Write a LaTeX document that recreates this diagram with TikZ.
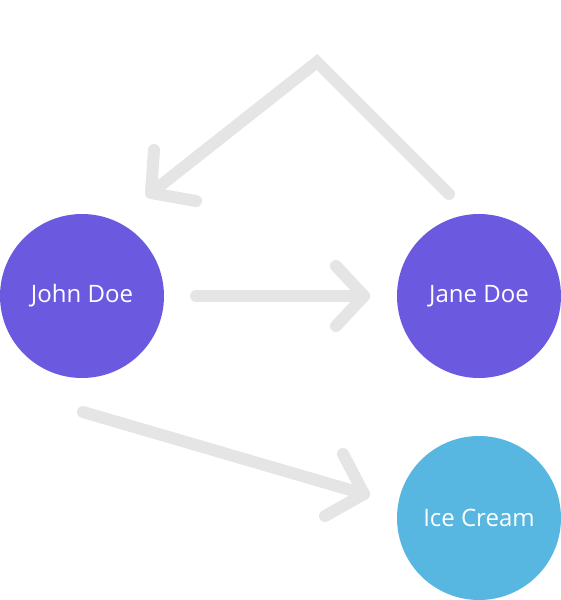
\documentclass[tikz,border=0pt]{standalone}
\usepackage{fontspec}
\setmainfont{Open Sans}
\definecolor{purp}{HTML}{6B5AE0}
\definecolor{skyb}{HTML}{58B7E0}
\definecolor{arrg}{HTML}{E5E5E5}
\begin{document}
\begin{tikzpicture}[x=1pt,y=-1pt,
  person/.style={circle,fill=purp,minimum size=164pt,inner sep=0pt,text=white,font=\fontsize{24}{28}\selectfont},
  thing/.style={circle,fill=skyb,minimum size=164pt,inner sep=0pt,text=white,font=\fontsize{24}{28}\selectfont},
  conn/.style={draw=arrg,line width=12pt,line cap=round,line join=miter}]
\useasboundingbox (0,0) rectangle (561,600);
\node[person] (john) at (82,296) {John Doe};
\node[person] (jane) at (479,296) {Jane Doe};
\node[thing] (ice) at (479,518) {Ice Cream};
% horizontal
\coordinate (h1) at (196,296);
\coordinate (h2) at (364,296);
\coordinate (ha) at (336,266);
\coordinate (hb) at (336,326);
\draw[conn] (h1) -- (h2);
\draw[conn,line join=round] (ha) -- (h2) -- (hb);
% top
\coordinate (t1) at (449,194);
\coordinate (tp) at (317,62);
\coordinate (t2) at (151,193);
\coordinate (ta) at (154,150);
\coordinate (tb) at (196,201);
\draw[conn] (t1) -- (tp) -- (t2);
\draw[conn,line join=round] (ta) -- (t2) -- (tb);
% diagonal
\coordinate (d1) at (83,412);
\coordinate (d2) at (364,494);
\coordinate (da) at (343,454);
\coordinate (db) at (325,516);
\draw[conn] (d1) -- (d2);
\draw[conn,line join=round] (da) -- (d2) -- (db);
\end{tikzpicture}
\end{document}
